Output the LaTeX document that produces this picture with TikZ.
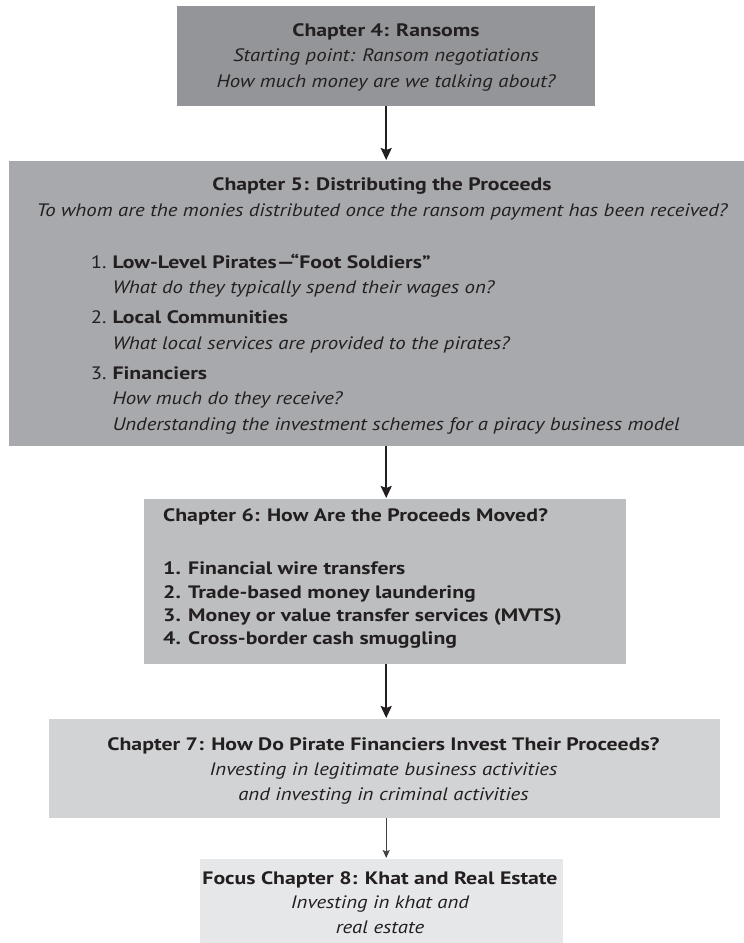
\documentclass[tikz,border=0pt]{standalone}
\usepackage{fontspec}
\setmainfont{PT Sans}[UprightFeatures={FakeStretch=1.15}, BoldFeatures={FakeStretch=1.21}, ItalicFeatures={FakeStretch=1.155}]
\usepackage{tikz}
\usetikzlibrary{arrows.meta,positioning}
\definecolor{kfifty}{HTML}{939598}
\definecolor{kforty}{HTML}{A7A9AC}
\definecolor{kthirty}{HTML}{BCBEC0}
\definecolor{ktwenty}{HTML}{D1D3D4}
\definecolor{kten}{HTML}{E6E7E8}
\definecolor{inkgray}{HTML}{231F20}

\begin{document}
\begin{tikzpicture}[x=1pt, y=-1pt,
    chapbox/.style={rectangle, inner sep=0pt, anchor=north west},
    chaptext/.style={text=inkgray, inner sep=0pt, anchor=base},
    flow/.style={draw=inkgray, line width=2pt, -{Stealth[length=12pt,width=11pt,inset=2pt]}, shorten >=1pt},
    thinflow/.style={draw=inkgray!85, line width=1.3pt, -{Stealth[length=8pt,width=7pt,inset=1.5pt]}, shorten >=1pt}]
   \useasboundingbox (0,0) rectangle (744,943);
   % boxes
   \node[chapbox, fill=kfifty, minimum width=418pt, minimum height=100pt] (ch4) at (177,6) {};
   \node[chapbox, fill=kforty, minimum width=760pt, minimum height=285pt] (ch5) at (9,161) {};
   \node[chapbox, fill=kthirty, minimum width=482pt, minimum height=165pt] (ch6) at (144,499) {};
   \node[chapbox, fill=ktwenty, minimum width=671pt, minimum height=99pt] (ch7) at (49,719) {};
   \node[chapbox, fill=kten, minimum width=363pt, minimum height=90pt] (ch8) at (200,859) {};
   % texts (anchored at the baseline of their last line)
   \begin{scope}[every node/.style={chaptext, font=\fontsize{18}{25.6}\selectfont}]
    \node[align=center] (ch4text) at (386,87.3) {{\bfseries Chapter 4: Ransoms}\\
      {\itshape Starting point: Ransom negotiations}\\
      {\itshape How much money are we talking about?}};
    \node[align=center, font=\fontsize{18}{26}\selectfont] (ch5head) at (382,216) {{\bfseries Chapter 5: Distributing the Proceeds}\\
      {\itshape To whom are the monies distributed once the ransom payment has been received?}};
    \node[align=left, anchor=base west, font=\fontsize{18}{25.5}\selectfont] (ch5list) at (90.7,430.3) {%
      \makebox[21.6pt][l]{1.}{\bfseries Low-Level Pirates—“Foot Soldiers”}\\
      \hspace*{21.6pt}{\itshape What do they typically spend their wages on?}\\[4.5pt]
      \makebox[21.6pt][l]{2.}{\bfseries Local Communities}\\
      \hspace*{21.6pt}{\itshape What local services are provided to the pirates?}\\[4.5pt]
      \makebox[21.6pt][l]{3.}{\bfseries Financiers}\\
      \hspace*{21.6pt}{\itshape How much do they receive?}\\
      \hspace*{21.6pt}{\itshape Understanding the investment schemes for a piracy business model}};
    \node[align=left, anchor=base west, font=\fontsize{18}{23.3}\selectfont\bfseries] (ch6text) at (163,644.6) {%
      Chapter 6: How Are the Proceeds Moved?\\[29.7pt]
      1. Financial wire transfers\\
      2. Trade-based money laundering\\
      3. Money or value transfer services (MVTS)\\
      4. Cross-border cash smuggling};
    \node[align=center, font=\fontsize{18}{25}\selectfont] (ch7text) at (383.5,800) {{\bfseries Chapter 7: How Do Pirate Financiers Invest Their Proceeds?}\\
      {\itshape Investing in legitimate business activities}\\
      {\itshape and investing in criminal activities}};
    \node[align=center, font=\fontsize{18}{24.6}\selectfont] (ch8text) at (380,933.2) {{\bfseries Focus Chapter 8: Khat and Real Estate}\\
      {\itshape Investing in khat and}\\
      {\itshape real estate}};
   \end{scope}
   % arrows
   \draw[flow] (ch4.south) -- (ch4.south |- ch5.north);
   \draw[flow] (ch5.south -| ch4.south) -- (ch6.north -| ch4.south);
   \draw[flow] (ch6.south -| ch4.south) -- (ch7.north -| ch4.south);
   \draw[thinflow] (ch7.south -| ch4.south) -- (ch8.north -| ch4.south);
\end{tikzpicture}
\end{document}
